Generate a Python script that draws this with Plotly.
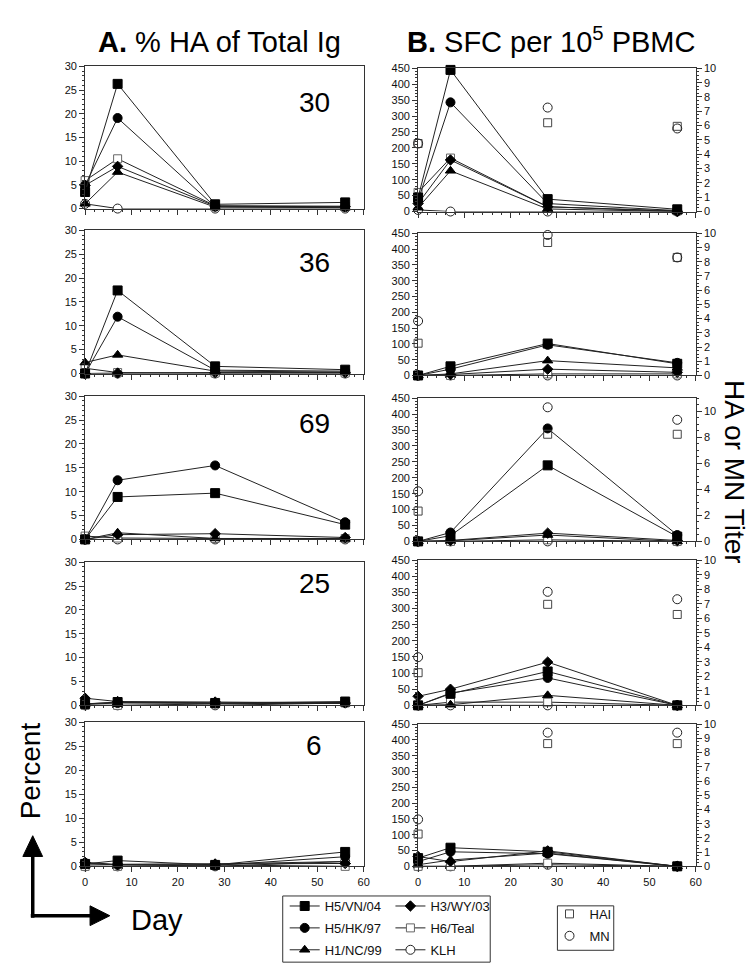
import plotly.graph_objects as go

W, H = 756, 972
FONT = "Liberation Sans, Arial, Helvetica, sans-serif"

# ---------------- data ----------------
days = [0, 7, 28, 56]
titer_days = [0, 28, 56]
subjects = ["30", "36", "69", "25", "6"]
x_tick_vals = [0, 10, 20, 30, 40, 50, 60]
series_names = ["H5/VN/04", "H5/HK/97", "H1/NC/99", "H3/WY/03", "H6/Teal", "KLH"]

# Panel A: % HA of total Ig (one row per subject, values at days 0, 7, 28, 56)
pct_h5vn = [[3.5, 26.3, 0.9, 1.3], [0.0, 17.4, 1.5, 0.8], [0.0, 8.9, 9.7, 3.1], [0.3, 0.7, 0.5, 0.8], [0.5, 1.2, 0.3, 3.0]]
pct_h5hk = [[4.9, 19.1, 0.4, 0.3], [0.0, 11.9, 0.7, 0.5], [0.0, 12.4, 15.5, 3.6], [0.2, 0.5, 0.4, 0.6], [0.7, 0.3, 0.2, 2.0]]
pct_h1nc = [[1.0, 7.7, 0.3, 0.2], [2.3, 3.9, 0.5, 0.3], [0.0, 1.4, 0.2, 0.1], [0.3, 0.6, 0.5, 0.4], [0.3, 0.4, 0.5, 1.0]]
pct_h3wy = [[4.9, 8.9, 0.5, 0.4], [0.0, 0.1, 0.2, 0.2], [0.0, 1.0, 1.2, 0.4], [1.5, 0.8, 0.7, 0.5], [0.8, 0.4, 0.5, 0.6]]
pct_h6teal = [[5.9, 10.5, 0.6, 0.5], [1.1, 0.2, 0.1, 0.1], [0.7, 0.3, 0.2, 0.2], [0.0, 0.0, 0.3, 0.5], [0.0, 0.0, 0.3, 0.0]]
pct_klh = [[1.0, 0.0, 0.0, 0.0], [0.0, 0.0, 0.0, 0.0], [0.0, 0.0, 0.0, 0.0], [0.0, 0.0, 0.0, 0.5], [0.0, 0.0, 0.0, 1.0]]

# Panel B: SFC per 10^5 PBMC
sfc_h5vn = [[44, 445, 39, 7], [0, 29, 101, 37], [0, 18, 239, 15], [0, 36, 105, 0], [26, 59, 46, 0]]
sfc_h5hk = [[35, 343, 25, 3], [0, 20, 97, 40], [0, 28, 355, 20], [0, 38, 85, 0], [15, 46, 40, 0]]
sfc_h1nc = [[12, 128, 8, 0], [0, 5, 47, 24], [0, 2, 20, 0], [0, 2, 31, 0], [5, 20, 42, 0]]
sfc_h3wy = [[25, 162, 15, 0], [0, 3, 20, 10], [0, 3, 26, 3], [28, 50, 134, 0], [31, 15, 49, 0]]
sfc_h6teal = [[60, 168, 15, 2], [0, 0, 5, 5], [0, 0, 5, 0], [0, 10, 10, 0], [0, 0, 10, 0]]
sfc_klh = [[5, 0, 0, 0], [0, 0, 0, 0], [0, 0, 0, 0], [0, 0, 0, 0], [0, 0, 5, 0]]

# HAI and MN titers (right axis), days 0, 28, 56
hai_titer = [[4.75, 6.2, 5.95], [2.27, 9.35, 8.3], [2.33, 8.23, 8.23], [2.25, 6.96, 6.26], [2.27, 8.63, 8.63]]
mn_titer = [[4.75, 7.26, 5.8], [3.83, 9.88, 8.3], [3.85, 10.3, 9.34], [3.32, 7.82, 7.31], [3.3, 9.4, 9.4]]
titer_axis_max = [10, 10, 11, 10, 10]
titer_axis_step = [1, 1, 2, 1, 1]

pct_data = [pct_h5vn, pct_h5hk, pct_h1nc, pct_h3wy, pct_h6teal, pct_klh]
sfc_data = [sfc_h5vn, sfc_h5hk, sfc_h1nc, sfc_h3wy, sfc_h6teal, sfc_klh]

# ---------------- styles ----------------
marker_style = {
    "H5/VN/04": dict(symbol="square", color="#000", size=9, line=dict(color="#000", width=1)),
    "H5/HK/97": dict(symbol="circle", color="#000", size=9, line=dict(color="#000", width=1)),
    "H1/NC/99": dict(symbol="triangle-up", color="#000", size=9, line=dict(color="#000", width=1)),
    "H3/WY/03": dict(symbol="diamond", color="#000", size=8, line=dict(color="#000", width=1)),
    "H6/Teal": dict(symbol="square", color="#fff", size=8, line=dict(color="#666", width=1)),
    "KLH": dict(symbol="circle", color="#fff", size=9, line=dict(color="#222", width=1)),
}
legend_of = {"H5/VN/04": "legend", "H5/HK/97": "legend", "H1/NC/99": "legend",
             "H3/WY/03": "legend2", "H6/Teal": "legend2", "KLH": "legend2"}
draw_order = [5, 4, 3, 2, 1, 0]

A_x = (75, 357)
B_x = (412, 693)
A_tb = [(53, 197), (219, 364), (387, 532), (555, 700), (717, 863)]
B_tb = [(55, 200), (222, 366), (389, 534), (553, 700), (719, 863)]
num_y = [89.5, 252, 415, 577, 741]


def px(x):
    return x / W


def py(y):
    return 1 - y / H


def nm(prefix, i):
    return prefix + ("" if i == 1 else str(i))


AX_COLOR = "#333"
common = dict(showline=True, linecolor=AX_COLOR, linewidth=1, mirror=True, ticks="outside",
              tickcolor=AX_COLOR, ticklen=5, tickwidth=1, showgrid=False, zeroline=False,
              tickfont=dict(size=11, color="#111", family=FONT))

fig = go.Figure()
layout = {}

for p in range(5):
    ax, bx = 2 * p + 1, 2 * p + 2
    ay, by, by2 = 3 * p + 1, 3 * p + 2, 3 * p + 3

    layout[nm("xaxis", ax)] = dict(domain=[px(A_x[0]), px(A_x[1])], anchor=nm("y", ay), range=[0, 60],
                                   tickvals=x_tick_vals, showticklabels=(p == 4),
                                   minor=dict(dtick=2, ticklen=2, ticks="outside", tickcolor=AX_COLOR), **common)
    layout[nm("yaxis", ay)] = dict(domain=[py(A_tb[p][1]), py(A_tb[p][0])], anchor=nm("x", ax), range=[0, 30],
                                   dtick=5, tick0=0,
                                   minor=dict(dtick=1, ticklen=2, ticks="outside", tickcolor=AX_COLOR), **common)
    layout[nm("xaxis", bx)] = dict(domain=[px(B_x[0]), px(B_x[1])], anchor=nm("y", by), range=[0, 60],
                                   tickvals=x_tick_vals, showticklabels=(p == 4),
                                   minor=dict(dtick=2, ticklen=2, ticks="outside", tickcolor=AX_COLOR), **common)
    layout[nm("yaxis", by)] = dict(domain=[py(B_tb[p][1]), py(B_tb[p][0])], anchor=nm("x", bx), range=[0, 450],
                                   dtick=50, tick0=0,
                                   minor=dict(dtick=10, ticklen=2, ticks="outside", tickcolor=AX_COLOR), **common)
    c2 = dict(common)
    c2["mirror"] = False
    layout[nm("yaxis", by2)] = dict(overlaying=nm("y", by), side="right", anchor=nm("x", bx),
                                    range=[0, titer_axis_max[p]], dtick=titer_axis_step[p], tick0=0,
                                    minor=dict(dtick=0.5 if titer_axis_step[p] == 2 else 0.25, ticklen=2,
                                               ticks="outside", tickcolor=AX_COLOR), **c2)

    for k in draw_order:
        name = series_names[k]
        ms = marker_style[name]
        fig.add_trace(go.Scatter(
            x=days, y=pct_data[k][p], mode="lines+markers", name=name,
            line=dict(color="#222", width=1), marker=ms, cliponaxis=False,
            xaxis=nm("x", ax), yaxis=nm("y", ay), legend=legend_of[name],
            legendgroup=name, legendrank=k + 1, showlegend=(p == 0)))
    for k in draw_order:
        name = series_names[k]
        ms = marker_style[name]
        fig.add_trace(go.Scatter(
            x=days, y=sfc_data[k][p], mode="lines+markers", name=name,
            line=dict(color="#222", width=1), marker=ms, cliponaxis=False,
            xaxis=nm("x", bx), yaxis=nm("y", by), legendgroup=name, showlegend=False))
    fig.add_trace(go.Scatter(
        x=titer_days, y=hai_titer[p], mode="markers", name="HAI",
        marker=dict(symbol="square", color="rgba(255,255,255,0)", size=8, line=dict(color="#444", width=1)),
        cliponaxis=False, xaxis=nm("x", bx), yaxis=nm("y", by2), legend="legend3",
        legendgroup="HAI", legendrank=1, showlegend=(p == 0)))
    fig.add_trace(go.Scatter(
        x=titer_days, y=mn_titer[p], mode="markers", name="MN",
        marker=dict(symbol="circle", color="rgba(255,255,255,0)", size=9, line=dict(color="#222", width=1)),
        cliponaxis=False, xaxis=nm("x", bx), yaxis=nm("y", by2), legend="legend3",
        legendgroup="MN", legendrank=2, showlegend=(p == 0)))

annotations = [
    dict(x=px(211.5), y=py(28.5), text="<b>A.</b> % HA of Total Ig", font=dict(size=29)),
    dict(x=px(547), y=py(26), text="<b>B.</b> SFC per 10<sup>5</sup> PBMC", font=dict(size=29)),
    dict(x=px(732), y=py(464), text="HA or MN Titer", textangle=90, font=dict(size=28)),
    dict(x=px(20), y=py(766), text="Percent", textangle=-90, font=dict(size=28)),
    dict(x=px(148), y=py(917), text="Day", font=dict(size=29)),
]
for p in range(5):
    annotations.append(dict(x=px(307), y=py(num_y[p]), text=subjects[p], font=dict(size=28)))
for a in annotations:
    a.update(xref="paper", yref="paper", xanchor="center", yanchor="middle", showarrow=False)
    a["font"].update(family=FONT, color="#000")

shapes = [
    # legend boxes
    dict(type="rect", xref="paper", yref="paper", x0=px(275), x1=px(485), y0=py(960), y1=py(893),
         line=dict(color="#333", width=1), fillcolor="rgba(0,0,0,0)"),
    dict(type="rect", xref="paper", yref="paper", x0=px(553), x1=px(610), y0=py(948), y1=py(903),
         line=dict(color="#333", width=1), fillcolor="rgba(0,0,0,0)"),
    # axis-direction arrows
    dict(type="line", xref="paper", yref="paper", x0=px(22), x1=px(22), y0=py(915), y1=py(850),
         line=dict(color="#000", width=3.5)),
    dict(type="line", xref="paper", yref="paper", x0=px(20), x1=px(82), y0=py(913), y1=py(913),
         line=dict(color="#000", width=3.5)),
    dict(type="path", xref="paper", yref="paper",
         path=f"M {px(12)},{py(853)} L {px(22)},{py(832)} L {px(32)},{py(853)} Z",
         fillcolor="#000", line=dict(color="#000", width=1)),
    dict(type="path", xref="paper", yref="paper",
         path=f"M {px(80)},{py(903)} L {px(100)},{py(913)} L {px(80)},{py(923)} Z",
         fillcolor="#000", line=dict(color="#000", width=1)),
]

leg_common = dict(orientation="v", xanchor="left", yanchor="top", bgcolor="rgba(0,0,0,0)", borderwidth=0,
                  font=dict(size=13, family=FONT, color="#111"), traceorder="grouped", tracegroupgap=2,
                  itemwidth=30, itemclick=False, itemdoubleclick=False)
layout["legend"] = dict(x=px(277), y=py(888), **leg_common)
layout["legend2"] = dict(x=px(384), y=py(888), **leg_common)
layout["legend3"] = dict(x=px(545), y=py(896), **leg_common)

fig.update_layout(
    width=W, height=H, margin=dict(l=0, r=0, t=0, b=0),
    paper_bgcolor="white", plot_bgcolor="white",
    font=dict(family=FONT, color="#111"),
    annotations=annotations, shapes=shapes, **layout)

fig.write_html("out.html")
